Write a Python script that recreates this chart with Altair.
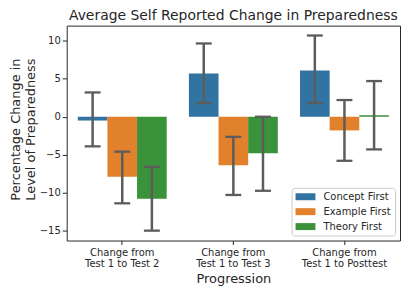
import altair as alt
import pandas as pd

progressions = ["Change from\nTest 1 to Test 2", "Change from\nTest 1 to Test 3", "Change from\nTest 1 to Posttest"]
groups = ["Concept First", "Example First", "Theory First"]
colors = ["#3274a1", "#e1812c", "#3a923a"]

mean_concept = [-0.5, 5.7, 6.1]
mean_example = [-7.9, -6.4, -1.8]
mean_theory = [-10.8, -4.8, 0.2]

lo_concept = [-3.9, 1.8, 1.8]
lo_example = [-11.4, -10.3, -5.8]
lo_theory = [-15.0, -9.75, -4.3]

hi_concept = [3.2, 9.65, 10.7]
hi_example = [-4.6, -2.65, 2.2]
hi_theory = [-6.6, 0.0, 4.7]

y_ticks = [-15, -10, -5, 0, 5, 10]

rows = []
for g, m, lo, hi in [
    (groups[0], mean_concept, lo_concept, hi_concept),
    (groups[1], mean_example, lo_example, hi_example),
    (groups[2], mean_theory, lo_theory, hi_theory),
]:
    for p, mv, l, h in zip(progressions, m, lo, hi):
        rows.append({"Progression": p, "Group": g, "mean": mv, "lo": l, "hi": h})
df = pd.DataFrame(rows)

font = "DejaVu Sans"
txt = "#262626"

x = alt.X(
    "Progression:N",
    sort=progressions,
    scale=alt.Scale(paddingInner=0, paddingOuter=0),
    axis=alt.Axis(
        title="Progression",
        labelAngle=0,
        labelExpr="split(datum.label, '\\n')",
        labelFontSize=10,
        labelLineHeight=11.5,
        labelPadding=3,
        tickSize=4,
        tickColor=txt,
        titleFontSize=13,
        titleFontWeight="normal",
        titlePadding=4,
        domain=False,
    ),
)
xoff = alt.XOffset(
    "Group:N",
    sort=groups,
    scale=alt.Scale(paddingInner=0, paddingOuter=0.375),
)
y_scale = alt.Scale(domain=[-16.3, 12.0], nice=False, zero=False)

bars = alt.Chart(df).mark_bar(size=29.8).encode(
    x=x,
    xOffset=xoff,
    y=alt.Y(
        "mean:Q",
        scale=y_scale,
        axis=alt.Axis(
            values=y_ticks,
            title=["Percentage Change in", "Level of Preparedness"],
            titleFontSize=13,
            titleFontWeight="normal",
            titleLineHeight=15,
            titleX=-44,
            titleY=104,
            titleBaseline="bottom",
            labelFontSize=10,
            tickSize=4.5,
            tickColor=txt,
            labelPadding=2,
            grid=False,
            domain=False,
        ),
    ),
    y2=alt.value(0),
    color=alt.Color(
        "Group:N",
        sort=groups,
        scale=alt.Scale(domain=groups, range=colors),
        legend=alt.Legend(
            title=None,
            orient="none",
            legendX=226,
            legendY=163,
            padding=4,
            strokeColor="#cccccc",
            fillColor="white",
            cornerRadius=3,
            labelFontSize=10,
            labelFont=font,
            labelColor=txt,
            labelOffset=13,
            rowPadding=5,
            symbolOffset=5,
            symbolType="M-2,-0.7L2,-0.7L2,0.7L-2,0.7Z",
            symbolSize=100,
            symbolStrokeWidth=0,
            symbolOpacity=1,
        ),
    ),
)

err_color = "#5c5c5c"
rules = alt.Chart(df).mark_rule(color=err_color, strokeWidth=2.5).encode(
    x=x,
    xOffset=xoff,
    y=alt.Y("lo:Q", scale=y_scale),
    y2="hi:Q",
)
caps_lo = alt.Chart(df).mark_tick(color=err_color, thickness=2.3, size=16, opacity=1).encode(
    x=x, xOffset=xoff, y=alt.Y("lo:Q", scale=y_scale)
)
caps_hi = alt.Chart(df).mark_tick(color=err_color, thickness=2.3, size=16, opacity=1).encode(
    x=x, xOffset=xoff, y=alt.Y("hi:Q", scale=y_scale)
)

chart = (
    alt.layer(bars, rules, caps_lo, caps_hi)
    .properties(
        width=335,
        height=216,
        title=alt.TitleParams(
            "Average Self Reported Change in Preparedness",
            fontSize=14,
            fontWeight="normal",
            font=font,
            color=txt,
            anchor="middle",
            offset=3,
        ),
        autosize=alt.AutoSizeParams(type="none"),
        padding={"left": 59, "top": 17, "right": 1, "bottom": 45},
    )
    .configure(font=font)
    .configure_axis(labelFont=font, titleFont=font, labelColor=txt, titleColor=txt)
    .configure_view(stroke=txt, strokeWidth=1)
)

chart.save("out.html", embed_options={"renderer": "svg", "actions": False})
